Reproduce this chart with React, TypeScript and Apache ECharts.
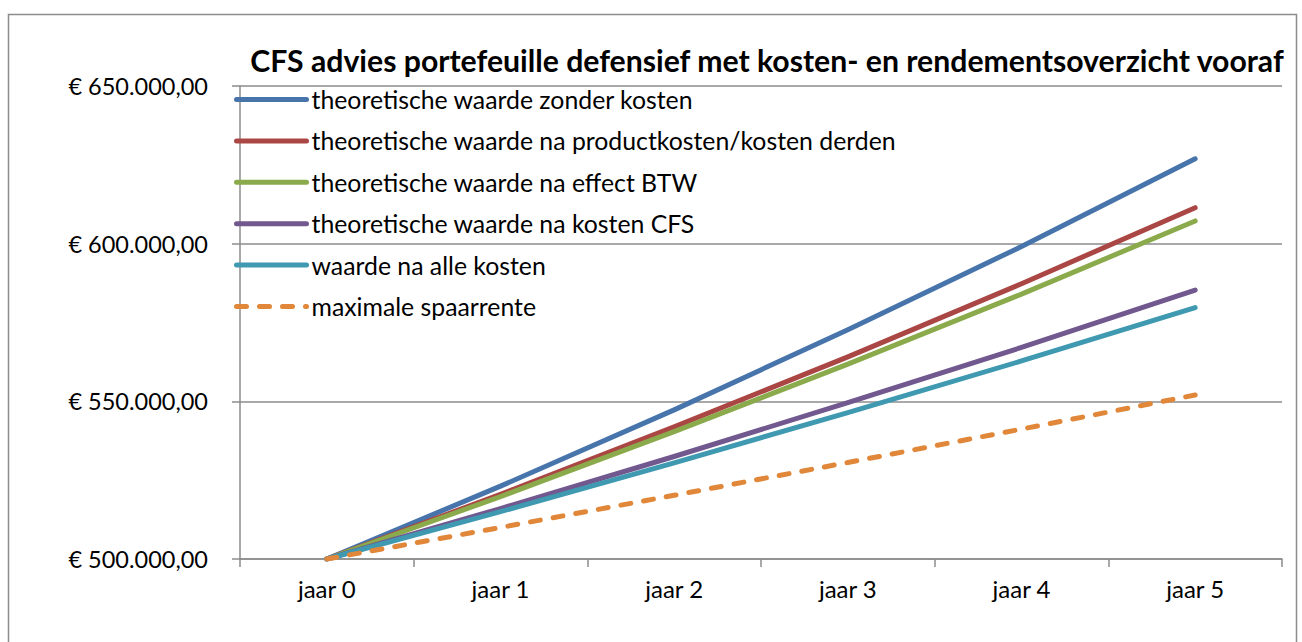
import React, { useEffect, useRef } from "react";
import * as echarts from "echarts";

const categories = ["jaar 0", "jaar 1", "jaar 2", "jaar 3", "jaar 4", "jaar 5"];
const seriesNames = [
  "theoretische waarde zonder kosten",
  "theoretische waarde na productkosten/kosten derden",
  "theoretische waarde na effect BTW",
  "theoretische waarde na kosten CFS",
  "waarde na alle kosten",
  "maximale spaarrente",
];
const zonderKosten = [500000, 523100, 547300, 572700, 599100, 626900];
const naProductkosten = [500000, 520500, 541900, 564100, 587300, 611400];
const naBTW = [500000, 519800, 540400, 561800, 584000, 607200];
const naKostenCFS = [500000, 516000, 532500, 549600, 567100, 585300];
const naAlleKosten = [500000, 515000, 530500, 546400, 562800, 579700];
const spaarrente = [500000, 510000, 520200, 530600, 541200, 552000];
const yTicks = { min: 500000, max: 650000, interval: 50000 };

const colors = ["#4674AB", "#AA4643", "#8AAA4B", "#71588F", "#3F99B1", "#E0873A"];
const FONT = "Lato, 'Open Sans', sans-serif";

function fmtEuro(v: number): string {
  const s = Math.round(v).toString().replace(/\B(?=(\d{3})+(?!\d))/g, ".");
  return "€ " + s + ",00";
}

export default function App() {
  const ref = useRef<HTMLDivElement>(null);
  useEffect(() => {
    document.body.style.margin = "0";
    if (!ref.current) return;
    const chart = echarts.init(ref.current, null, { renderer: "svg" });
    const data = [zonderKosten, naProductkosten, naBTW, naKostenCFS, naAlleKosten, spaarrente];
    chart.setOption({
      animation: false,
      backgroundColor: "#ffffff",
      textStyle: { fontFamily: FONT },
      title: {
        text: "CFS advies portefeuille defensief met kosten- en rendementsoverzicht vooraf",
        left: 762,
        top: 40,
        textAlign: "center",
        textStyle: { fontFamily: FONT, fontSize: 30.2, fontWeight: "bold", color: "#000" },
      },
      graphic: [
        {
          type: "rect",
          shape: { x: 8.5, y: 14.5, width: 1288, height: 640 },
          style: { fill: "none", stroke: "#8c8c8c", lineWidth: 1.5 },
          silent: true,
        },
      ],
      legend: {
        orient: "vertical",
        left: 234,
        top: 87,
        padding: 0,
        itemWidth: 70,
        itemHeight: 20,
        itemGap: 16.4,
        data: seriesNames,
        itemStyle: { opacity: 0 },
        lineStyle: { width: 5, cap: "round" },
        textStyle: { fontFamily: FONT, fontSize: 24.8, color: "#000" },
      },
      grid: { left: 240, right: 20, top: 86, bottom: 83, containLabel: false },
      xAxis: {
        type: "category",
        data: categories,
        boundaryGap: true,
        axisLine: { lineStyle: { color: "#8c8c8c", width: 1.5 } },
        axisTick: { show: true, interval: 0, length: 8, lineStyle: { color: "#8c8c8c", width: 1.5 } },
        axisLabel: { color: "#000", fontSize: 24, fontFamily: FONT, margin: 17, interval: 0 },
      },
      yAxis: {
        type: "value",
        min: yTicks.min,
        max: yTicks.max,
        interval: yTicks.interval,
        axisLine: { show: true, lineStyle: { color: "#8c8c8c", width: 1.5 } },
        axisTick: { show: true, length: 8, lineStyle: { color: "#8c8c8c", width: 1.5 } },
        splitLine: { show: true, lineStyle: { color: "#8c8c8c", width: 1.5 } },
        axisLabel: { color: "#000", fontSize: 23.5, fontFamily: FONT, margin: 32, formatter: fmtEuro },
      },
      series: seriesNames.map((name, i) => ({
        name,
        type: "line",
        data: data[i],
        symbol: "none",
        showSymbol: false,
        smooth: false,
        color: colors[i],
        lineStyle: {
          color: colors[i],
          width: 5,
          cap: "round",
          join: "round",
          type: i === 5 ? [10, 13] : "solid",
        },
      })),
    });
    return () => chart.dispose();
  }, []);
  return <div ref={ref} style={{ width: 1302, height: 642 }} />;
}
